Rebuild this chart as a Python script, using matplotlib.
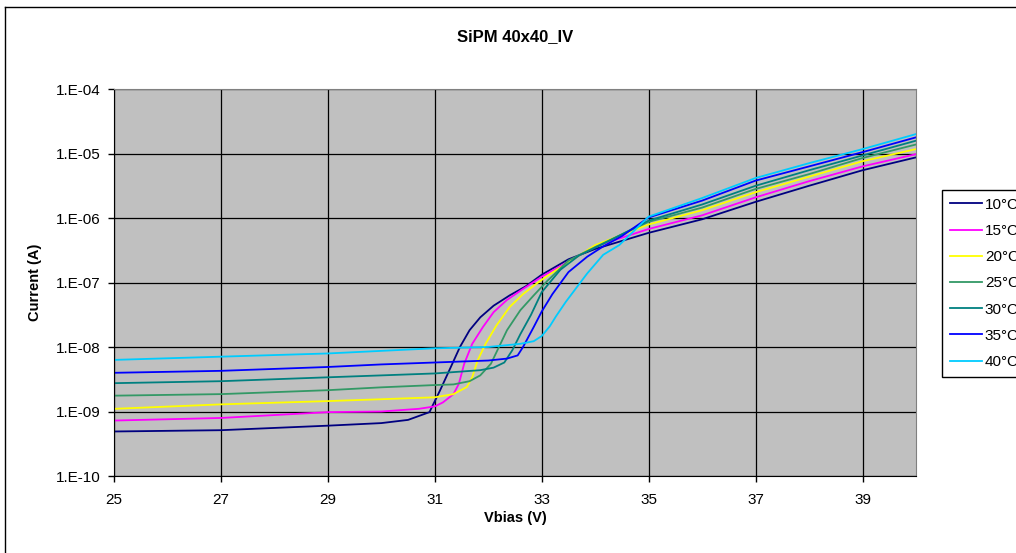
import math
import matplotlib
matplotlib.use("Agg")
import matplotlib.pyplot as plt
from matplotlib.lines import Line2D
from matplotlib.ticker import FixedLocator, FuncFormatter

plt.rcParams['font.family'] = ['Liberation Sans', 'DejaVu Sans']

# values (Vbias in V, current in A)
v_10c = [25, 27, 29, 30, 30.5, 30.9, 31.1, 31.3, 31.47, 31.65, 31.85, 32.1, 32.4,
         32.7, 33, 33.5, 34, 35, 36, 37, 38, 39, 40]
i_10c = [4.90e-10, 5.13e-10, 6.03e-10, 6.61e-10, 7.41e-10, 9.77e-10, 2.14e-9, 4.90e-9,
         1.00e-8, 1.82e-8, 2.88e-8, 4.37e-8, 6.31e-8, 8.71e-8, 1.32e-7, 2.29e-7,
         3.31e-7, 5.89e-7, 9.55e-7, 1.78e-6, 3.16e-6, 5.50e-6, 8.71e-6]

v_15c = [25, 27, 29, 30, 30.7, 31, 31.15, 31.35, 31.45, 31.55, 31.7, 31.9, 32.1,
         32.35, 32.65, 33, 34, 35, 36, 37, 38, 39, 40]
i_15c = [7.24e-10, 7.94e-10, 9.77e-10, 1.00e-9, 1.10e-9, 1.20e-9, 1.38e-9, 1.86e-9,
         2.69e-9, 5.50e-9, 1.12e-8, 2.04e-8, 3.47e-8, 5.37e-8, 7.94e-8, 1.23e-7,
         3.63e-7, 6.76e-7, 1.10e-6, 2.09e-6, 3.72e-6, 6.31e-6, 9.77e-6]

v_20c = [25, 27, 29, 30, 31, 31.35, 31.6, 31.7, 31.8, 31.95, 32.15, 32.4, 32.65,
         32.9, 33.1, 34, 35, 36, 37, 38, 39, 40]
i_20c = [1.10e-9, 1.29e-9, 1.45e-9, 1.55e-9, 1.66e-9, 1.86e-9, 2.40e-9, 3.39e-9,
         6.17e-9, 1.12e-8, 2.14e-8, 4.17e-8, 6.61e-8, 9.55e-8, 1.26e-7, 3.80e-7,
         7.94e-7, 1.32e-6, 2.51e-6, 4.37e-6, 7.59e-6, 1.17e-5]

v_25c = [25, 27, 29, 30, 31, 31.35, 31.65, 31.85, 32.05, 32.2, 32.35, 32.6, 32.85,
         33.1, 33.5, 34, 35, 36, 37, 38, 39, 40]
i_25c = [1.76e-9, 1.86e-9, 2.14e-9, 2.37e-9, 2.57e-9, 2.63e-9, 2.95e-9, 3.63e-9,
         5.50e-9, 1.00e-8, 1.82e-8, 3.72e-8, 6.31e-8, 1.05e-7, 2.19e-7, 3.55e-7,
         8.71e-7, 1.45e-6, 2.82e-6, 4.79e-6, 8.51e-6, 1.38e-5]

v_30c = [25, 27, 29, 30, 31, 31.85, 32.1, 32.3, 32.45, 32.6, 32.8, 33.0, 33.35,
         33.7, 34.15, 35, 36, 37, 38, 39, 40]
i_30c = [2.75e-9, 2.95e-9, 3.39e-9, 3.63e-9, 3.89e-9, 4.37e-9, 4.79e-9, 5.75e-9,
         8.91e-9, 1.58e-8, 3.16e-8, 7.08e-8, 1.58e-7, 2.63e-7, 3.98e-7, 9.12e-7,
         1.62e-6, 3.16e-6, 5.50e-6, 9.33e-6, 1.58e-5]

v_35c = [25, 27, 29, 30, 31, 32, 32.35, 32.55, 32.65, 32.85, 33.0, 33.2, 33.5,
         33.85, 34.15, 34.5, 35, 36, 37, 38, 39, 40]
i_35c = [3.98e-9, 4.27e-9, 4.90e-9, 5.37e-9, 5.75e-9, 6.17e-9, 6.61e-9, 7.41e-9,
         1.00e-8, 2.04e-8, 3.55e-8, 6.61e-8, 1.45e-7, 2.51e-7, 3.63e-7, 5.25e-7,
         1.02e-6, 1.86e-6, 3.80e-6, 6.31e-6, 1.05e-5, 1.78e-5]

v_40c = [25, 27, 29, 30, 31, 32, 32.6, 32.85, 33.0, 33.15, 33.27, 33.45, 33.65,
         33.85, 34.15, 34.45, 35, 36, 37, 38, 39, 40]
i_40c = [6.31e-9, 7.08e-9, 7.94e-9, 8.71e-9, 9.55e-9, 1.00e-8, 1.12e-8, 1.23e-8,
         1.48e-8, 2.09e-8, 3.02e-8, 5.01e-8, 8.32e-8, 1.38e-7, 2.69e-7, 3.80e-7,
         1.05e-6, 2.04e-6, 4.17e-6, 7.08e-6, 1.17e-5, 2.00e-5]

labels = ['10°C', '15°C', '20°C', '25°C', '30°C', '35°C', '40°C']
colors = ['#000080', '#FF00FF', '#FFFF00', '#339966', '#008080', '#0000FF', '#00CCFF']
series = [(v_10c, i_10c), (v_15c, i_15c), (v_20c, i_20c), (v_25c, i_25c),
          (v_30c, i_30c), (v_35c, i_35c), (v_40c, i_40c)]

x_ticks = [25, 27, 29, 31, 33, 35, 37, 39]
y_ticks = [1e-10, 1e-9, 1e-8, 1e-7, 1e-6, 1e-5, 1e-4]


def excel_sci(y, pos):
    # Excel style "1.E-04"
    return "1.E-%02d" % round(-math.log10(y))


W, H = 1016, 553
fig = plt.figure(figsize=(W / 100, H / 100), dpi=100)
ax = fig.add_axes([114 / W, 1 - 476 / H, (916 - 114) / W, (476 - 89) / H])
ax.set_facecolor('#C0C0C0')

for (v, i), lab, col in zip(series, labels, colors):
    ax.plot(v, i, color=col, lw=1.3, label=lab)

ax.set_yscale('log')
ax.set_xlim(25, 40)
ax.set_ylim(1e-10, 1e-4)
ax.xaxis.set_major_locator(FixedLocator(x_ticks))
ax.yaxis.set_major_locator(FixedLocator(y_ticks))
ax.yaxis.set_minor_locator(FixedLocator([]))
ax.yaxis.set_major_formatter(FuncFormatter(excel_sci))
ax.grid(True, color='black', lw=0.9)
ax.set_axisbelow(True)
ax.tick_params(direction='out', length=4.5, width=1, labelsize=11, colors='black')
ax.tick_params(axis='x', pad=7.5)
ax.tick_params(axis='y', pad=5)
for s in ['top', 'right']:
    ax.spines[s].set_color('#808080')
for s in ['left', 'bottom']:
    ax.spines[s].set_color('black')

fig.text(515 / W, 1 - 37 / H, 'SiPM 40x40_IV', ha='center', va='center',
         fontsize=12, fontweight='bold')
fig.text(515 / W, 1 - 518 / H, 'Vbias (V)', ha='center', va='center',
         fontsize=10.5, fontweight='bold')
fig.text(35 / W, 1 - 282 / H, 'Current (A)', ha='center', va='center',
         rotation=90, fontsize=10.5, fontweight='bold')

# outer chart border (cut off on the right and bottom)
fig.add_artist(Line2D([4.5 / W, 4.5 / W], [0, 1 - 6.5 / H], color='black', lw=1))
fig.add_artist(Line2D([4.5 / W, 1], [1 - 6.5 / H, 1 - 6.5 / H], color='black', lw=1))

leg = fig.legend(loc='upper left', bbox_to_anchor=(942 / W, 1 - 190 / H),
                 borderaxespad=0, fontsize=11, frameon=True, fancybox=False,
                 edgecolor='black', framealpha=1, handlelength=2.1,
                 handletextpad=0.2, labelspacing=0.8, borderpad=0.5)
leg.get_frame().set_linewidth(1)

fig.savefig('out.png', dpi=100)
